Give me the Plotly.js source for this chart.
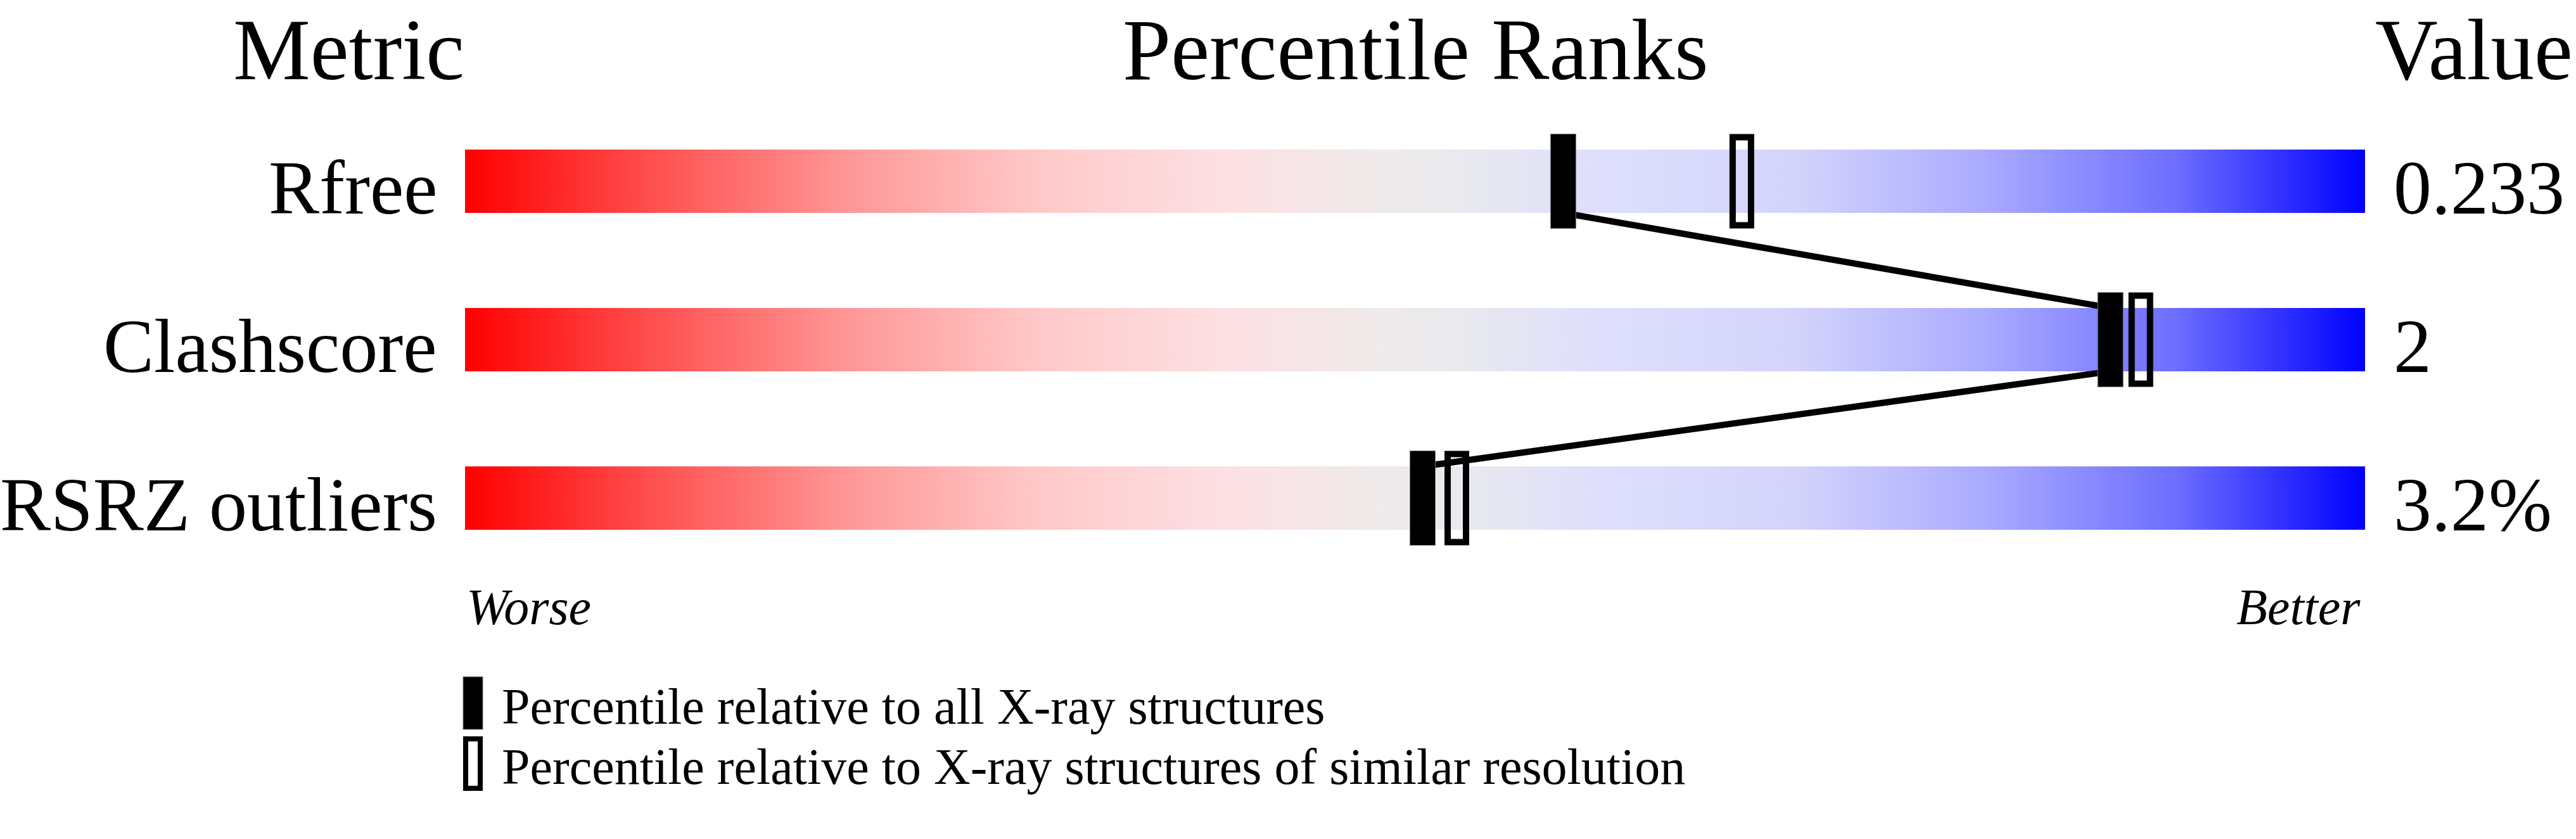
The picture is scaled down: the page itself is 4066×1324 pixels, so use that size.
<!DOCTYPE html>
<html><head><meta charset="utf-8">
<script src="https://cdn.plot.ly/plotly-3.0.1.min.js"></script>
<style>html,body{margin:0;padding:0;background:#fff;overflow:hidden}</style>
</head><body><div id="chart" style="width:4066px;height:1324px"></div>
<script>
// ---- data ----
const metrics = ["Rfree", "Clashscore", "RSRZ outliers"];
const values = ["0.233", "2", "3.2%"];
const pctAll = [57.8, 86.6, 50.4];       // percentile relative to all X-ray structures
const pctSimilar = [67.2, 88.2, 52.2];   // percentile relative to similar resolution
const headers = ["Metric", "Percentile Ranks", "Value"];
const scaleLabels = ["Worse", "Better"];
const legendLabels = ["Percentile relative to all X-ray structures",
                      "Percentile relative to X-ray structures of similar resolution"];
const gradientStops = [
  [0.00, "rgb(255,0,0)"], [0.10, "rgb(255,80,80)"], [0.20, "rgb(255,150,150)"],
  [0.30, "rgb(255,200,200)"], [0.40, "rgb(253,224,227)"], [0.48, "rgb(240,234,234)"],
  [0.52, "rgb(234,234,238)"], [0.60, "rgb(222,222,253)"], [0.70, "rgb(212,212,252)"],
  [0.80, "rgb(170,170,255)"], [0.90, "rgb(110,110,255)"], [1.00, "rgb(0,0,255)"]
];

// ---- layout helpers ----
const W = 4066, H = 1324;
const L = 734, R = 3733, T = 161, B = 911;
const px2x = p => (p - L) / (R - L);
const px2y = p => (B - p) / (B - T);
const FONT = "Liberation Serif, Times New Roman, serif";
const half = 0.2;

const traces = [];
metrics.forEach((m, i) => {
  traces.push({
    type: "scatter", mode: "lines",
    x: [0, 100, 100, 0, 0],
    y: [i - half, i - half, i + half, i + half, i - half],
    fill: "toself",
    fillcolor: "rgb(230,230,240)",
    fillgradient: { type: "horizontal", colorscale: gradientStops },
    line: { width: 0 }, hoverinfo: "skip", showlegend: false
  });
});
// connecting line between "all" markers
const lx = [], ly = [];
pctAll.forEach((p, i) => {
  if (i > 0) { lx.push(p); ly.push(i - half); }
  if (i < pctAll.length - 1) { lx.push(p); ly.push(i + half); }
});
traces.push({
  type: "scatter", mode: "lines", x: lx, y: ly,
  line: { color: "black", width: 10 }, hoverinfo: "skip", showlegend: false
});

const shapes = [];
pctAll.forEach((p, i) => {
  shapes.push({
    type: "rect", layer: "above",
    xref: "x", xsizemode: "pixel", xanchor: p, x0: -20, x1: 20,
    yref: "y", ysizemode: "pixel", yanchor: i, y0: -74.5, y1: 74.5,
    fillcolor: "black", line: { color: "#777", width: 1 }
  });
});
pctSimilar.forEach((p, i) => {
  shapes.push({
    type: "rect", layer: "above",
    xref: "x", xsizemode: "pixel", xanchor: p, x0: -14.5, x1: 14.5,
    yref: "y", ysizemode: "pixel", yanchor: i, y0: -69.5, y1: 69.5,
    fillcolor: "rgba(0,0,0,0)", line: { color: "black", width: 10 }
  });
});
// legend keys
shapes.push({
  type: "rect", xref: "paper", yref: "paper",
  x0: px2x(731), x1: px2x(762), y0: px2y(1151), y1: px2y(1068),
  fillcolor: "black", line: { color: "#777", width: 1 }
});
shapes.push({
  type: "rect", xref: "paper", yref: "paper",
  x0: px2x(735), x1: px2x(758), y0: px2y(1244), y1: px2y(1166),
  fillcolor: "rgba(0,0,0,0)", line: { color: "black", width: 8 }
});

const annotations = [];
const hdrY = px2y(2);
const hdrFont = { family: FONT, size: 137, color: "black" };
annotations.push({ text: headers[0], xref: "paper", yref: "paper", x: 0, y: hdrY,
  xanchor: "right", yanchor: "top", borderpad: 0, showarrow: false, font: hdrFont });
annotations.push({ text: headers[1], xref: "paper", yref: "paper", x: 0.5, y: hdrY,
  xanchor: "center", yanchor: "top", borderpad: 0, showarrow: false, font: hdrFont });
annotations.push({ text: headers[2], xref: "paper", yref: "paper", x: px2x(4062), y: hdrY,
  xanchor: "right", yanchor: "top", borderpad: 0, showarrow: false, font: hdrFont });
metrics.forEach((m, i) => {
  annotations.push({ text: m, xref: "paper", yref: "y", x: px2x(692), y: i, yshift: -10,
    xanchor: "right", yanchor: "middle", showarrow: false, font: { family: FONT, size: 120, color: "black" } });
  annotations.push({ text: values[i], xref: "paper", yref: "y", x: px2x(3776), y: i, yshift: -10,
    xanchor: "left", yanchor: "middle", showarrow: false, font: { family: FONT, size: 120, color: "black" } });
});
annotations.push({ text: "<i>" + scaleLabels[0] + "</i>", xref: "paper", yref: "paper", x: px2x(734), y: px2y(958),
  xanchor: "left", yanchor: "middle", showarrow: false, font: { family: FONT, size: 80, color: "black" } });
annotations.push({ text: "<i>" + scaleLabels[1] + "</i>", xref: "paper", yref: "paper", x: px2x(3728), y: px2y(958),
  xanchor: "right", yanchor: "middle", showarrow: false, font: { family: FONT, size: 80, color: "black" } });
annotations.push({ text: legendLabels[0], xref: "paper", yref: "paper", x: px2x(790), y: px2y(1115),
  xanchor: "left", yanchor: "middle", showarrow: false, font: { family: FONT, size: 80, color: "black" } });
annotations.push({ text: legendLabels[1], xref: "paper", yref: "paper", x: px2x(790), y: px2y(1210),
  xanchor: "left", yanchor: "middle", showarrow: false, font: { family: FONT, size: 80, color: "black" } });

const layout = {
  width: W, height: H,
  margin: { l: L, r: W - R, t: T, b: H - B, pad: 0 },
  paper_bgcolor: "white", plot_bgcolor: "white",
  showlegend: false,
  xaxis: { range: [0, 100], visible: false, fixedrange: true },
  yaxis: { range: [2.5, -0.5], visible: false, fixedrange: true },
  shapes: shapes, annotations: annotations
};
Plotly.newPlot("chart", traces, layout, { staticPlot: true, displayModeBar: false });
</script>
</body></html>
